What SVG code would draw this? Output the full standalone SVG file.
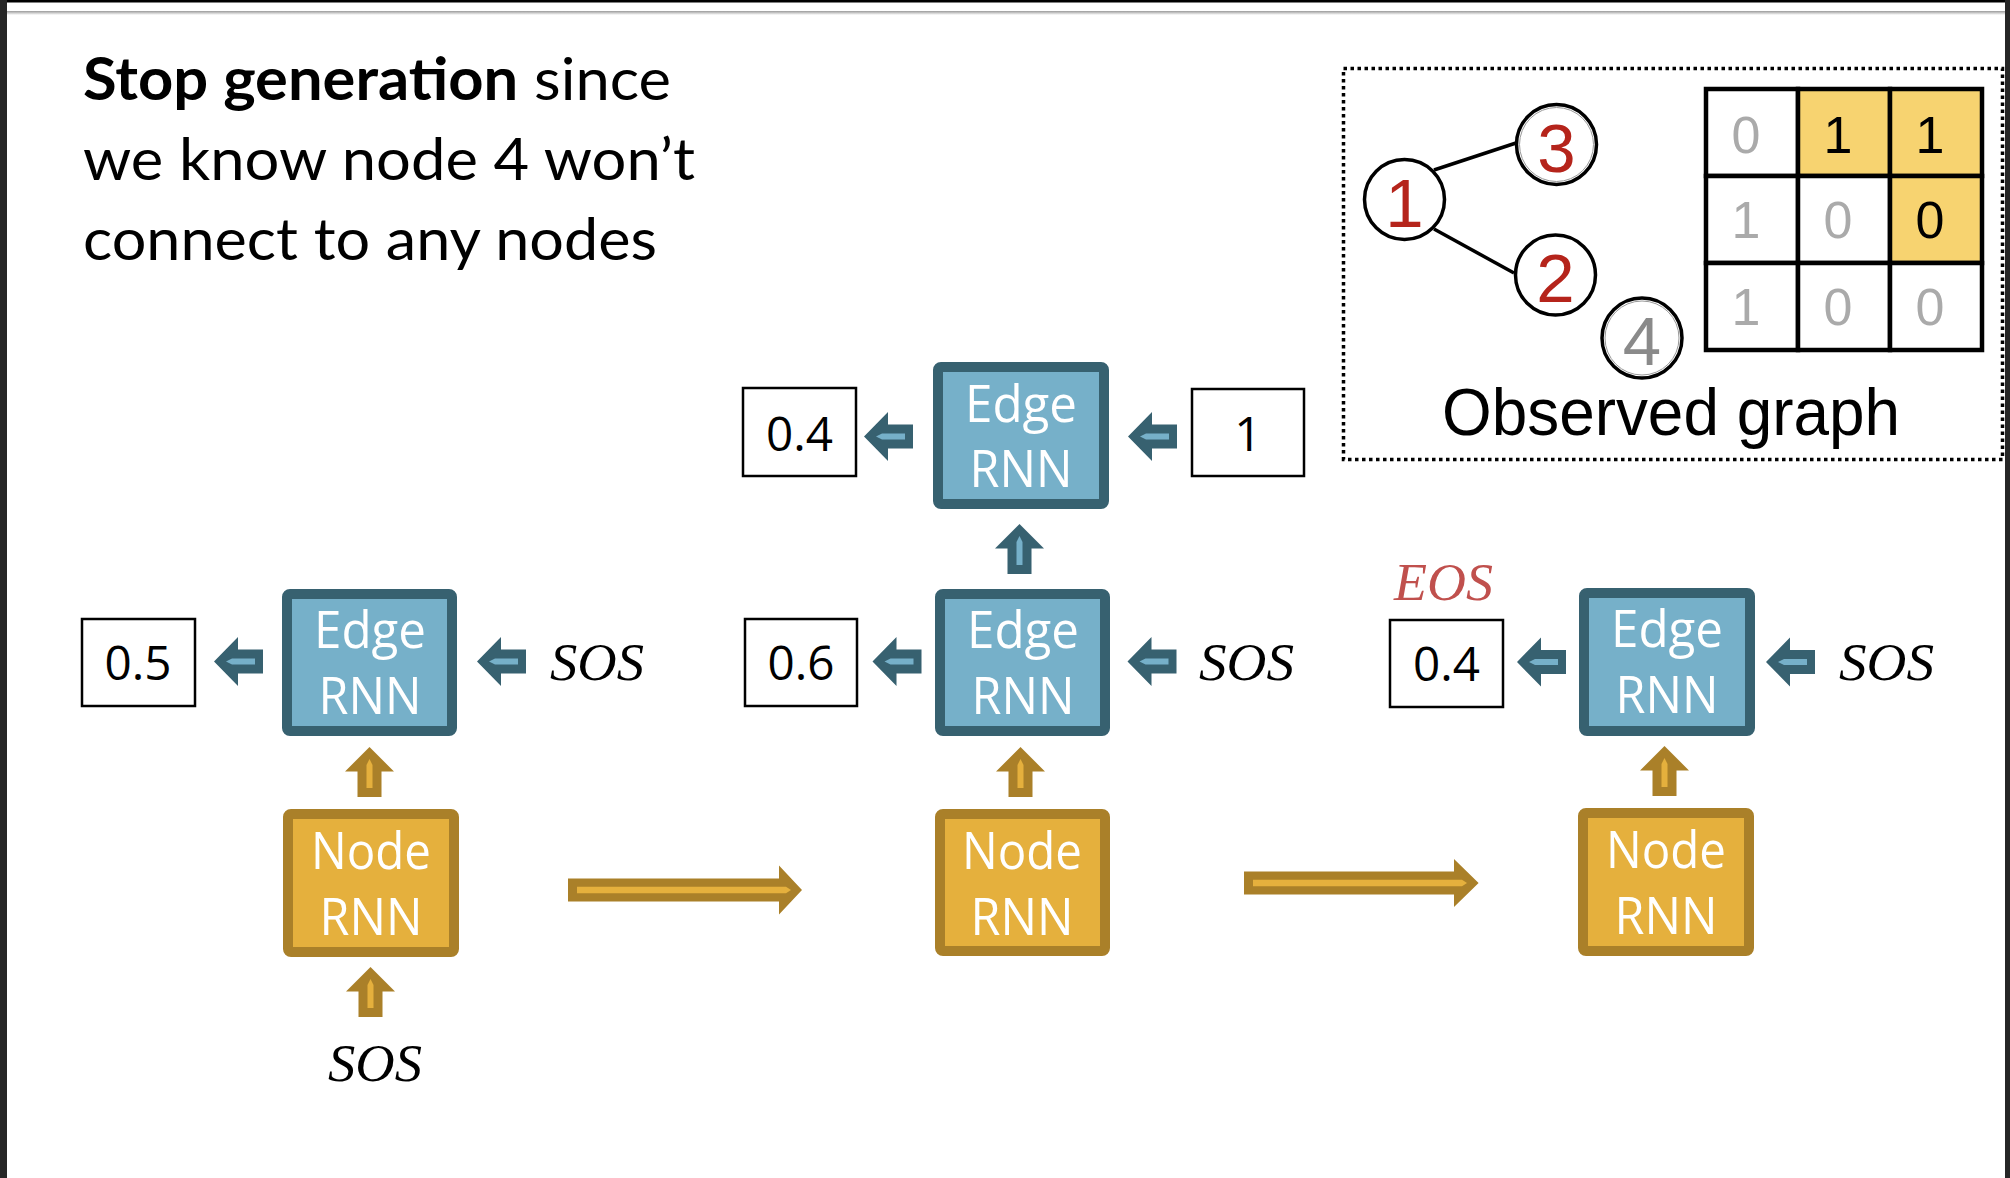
<svg xmlns="http://www.w3.org/2000/svg" xmlns:xlink="http://www.w3.org/1999/xlink" width="2010" height="1178" viewBox="0 0 2010 1178">
<style>
.title{font-family:Lato,"Open Sans","Liberation Sans",sans-serif;font-size:59px;fill:#000}
.edge{fill:#76B0C9;stroke:#376170;stroke-width:10}
.node{fill:#E5B03D;stroke:#AA8029;stroke-width:10}
.lbl{font-family:"Open Sans","Noto Sans","Liberation Sans",sans-serif;font-size:52px;fill:#fff;text-anchor:middle}
.val{fill:#fff;stroke:#000;stroke-width:2.5}
.valt{font-family:"Open Sans","Noto Sans","Liberation Sans",sans-serif;font-size:48px;fill:#000;text-anchor:middle}
.sos{font-family:"Liberation Serif","DejaVu Serif",serif;font-style:italic;font-size:53px;fill:#000}
.gc{fill:#fff;stroke:#000;stroke-width:3.5}
.gn{font-family:"Liberation Sans",Arial,sans-serif;font-size:69px;fill:#B5241B;text-anchor:middle}
.mt{font-family:"Liberation Sans",Arial,sans-serif;font-size:52px;text-anchor:middle}
.cell{stroke:#000;stroke-width:4.5}
</style>
<defs>
<g id="bL"><path d="M0,0 L24,-24.5 L24,-12 L49,-12 L49,12 L24,12 L24,24.5 Z" fill="#376170"/><path d="M12,0 L18,-3 L41,-3 L41,3 L18,3 Z" fill="#76B0C9"/></g>
<g id="bU"><path d="M0,0 L24.5,24.5 L12,24.5 L12,50 L-12,50 L-12,24.5 L-24.5,24.5 Z" fill="#376170"/><path d="M0,12 L3,18 L3,41 L-3,41 L-3,18 Z" fill="#76B0C9"/></g>
<g id="oU"><path d="M0,0 L24.5,24.5 L12,24.5 L12,50 L-12,50 L-12,24.5 L-24.5,24.5 Z" fill="#AA8029"/><path d="M0,12 L3,18 L3,41 L-3,41 L-3,18 Z" fill="#E5B03D"/></g>
<linearGradient id="sh" x1="0" y1="0" x2="0" y2="1"><stop offset="0" stop-color="#9a9a9a"/><stop offset="1" stop-color="#ffffff"/></linearGradient>
</defs>
<rect width="2010" height="1178" fill="#fff"/>
<g id="frame">
<rect x="0" y="0" width="2010" height="2.5" fill="#000"/>
<rect x="7" y="11" width="1998" height="4" fill="url(#sh)"/>
<rect x="0" y="0" width="7" height="1178" fill="#262626"/>
<rect x="2005" y="0" width="5" height="1178" fill="#262626"/>
</g>
<g id="title">
<text class="title" x="83" y="100" textLength="588" lengthAdjust="spacingAndGlyphs"><tspan font-weight="bold">Stop generation</tspan> since</text>
<text class="title" x="83" y="180" textLength="612" lengthAdjust="spacingAndGlyphs">we know node 4 won’t</text>
<text class="title" x="83" y="260" textLength="574" lengthAdjust="spacingAndGlyphs">connect to any nodes</text>
</g>
<g id="observed-graph">
<rect x="1343.5" y="68.5" width="659" height="391" fill="none" stroke="#000" stroke-width="3.5" stroke-dasharray="3.5 3.5"/>
<line x1="1434" y1="170" x2="1516" y2="143" stroke="#000" stroke-width="3.5"/>
<line x1="1434" y1="229" x2="1514" y2="273" stroke="#000" stroke-width="3.5"/>
<g id="g-node1"><circle class="gc" cx="1404.5" cy="199.5" r="40"/><text class="gn" x="1404.5" y="227">1</text></g>
<g id="g-node3"><circle class="gc" cx="1556.5" cy="144.5" r="40"/><circle cx="1556.5" cy="144.5" r="37" fill="none" stroke="#999" stroke-width="1"/><text class="gn" x="1556.5" y="172">3</text></g>
<g id="g-node2"><circle class="gc" cx="1555.5" cy="275" r="40"/><text class="gn" x="1555.5" y="302">2</text></g>
<g id="g-node4"><circle class="gc" cx="1642" cy="338" r="40"/><circle cx="1642" cy="338" r="37" fill="none" stroke="#999" stroke-width="1"/><text class="gn" x="1642" y="365" style="fill:#8A8A8A">4</text></g>
<g id="matrix">
<rect class="cell" x="1706" y="89" width="92" height="87" fill="#fff"/>
<rect class="cell" x="1798" y="89" width="92" height="87" fill="#F7D370"/>
<rect class="cell" x="1890" y="89" width="92" height="87" fill="#F7D370"/>
<rect class="cell" x="1706" y="176" width="92" height="87" fill="#fff"/>
<rect class="cell" x="1798" y="176" width="92" height="87" fill="#fff"/>
<rect class="cell" x="1890" y="176" width="92" height="87" fill="#F7D370"/>
<rect class="cell" x="1706" y="263" width="92" height="87" fill="#fff"/>
<rect class="cell" x="1798" y="263" width="92" height="87" fill="#fff"/>
<rect class="cell" x="1890" y="263" width="92" height="87" fill="#fff"/>
<text class="mt" x="1746" y="153" fill="#AAAAAA">0</text>
<text class="mt" x="1838" y="153" fill="#000">1</text>
<text class="mt" x="1930" y="153" fill="#000">1</text>
<text class="mt" x="1746" y="238" fill="#AAAAAA">1</text>
<text class="mt" x="1838" y="238" fill="#AAAAAA">0</text>
<text class="mt" x="1930" y="238" fill="#000">0</text>
<text class="mt" x="1746" y="325" fill="#AAAAAA">1</text>
<text class="mt" x="1838" y="325" fill="#AAAAAA">0</text>
<text class="mt" x="1930" y="325" fill="#AAAAAA">0</text>
</g>
<text x="1442" y="435" font-family="'Liberation Sans',Arial,sans-serif" font-size="66" textLength="458" lengthAdjust="spacingAndGlyphs" fill="#000">Observed graph</text>
</g>
<g id="edge-rnn-top"><rect class="edge" x="938" y="367" width="166" height="137" rx="3"/><text class="lbl" x="1021" y="422" textLength="112" lengthAdjust="spacingAndGlyphs">Edge</text><text class="lbl" x="1021" y="487" textLength="103" lengthAdjust="spacingAndGlyphs">RNN</text></g>
<g id="edge-rnn-1"><rect class="edge" x="287" y="594" width="165" height="137" rx="3"/><text class="lbl" x="370" y="648" textLength="112" lengthAdjust="spacingAndGlyphs">Edge</text><text class="lbl" x="370" y="714" textLength="103" lengthAdjust="spacingAndGlyphs">RNN</text></g>
<g id="edge-rnn-2"><rect class="edge" x="940" y="594" width="165" height="137" rx="3"/><text class="lbl" x="1023" y="648" textLength="112" lengthAdjust="spacingAndGlyphs">Edge</text><text class="lbl" x="1023" y="714" textLength="103" lengthAdjust="spacingAndGlyphs">RNN</text></g>
<g id="edge-rnn-3"><rect class="edge" x="1584" y="593" width="166" height="138" rx="3"/><text class="lbl" x="1667" y="647" textLength="112" lengthAdjust="spacingAndGlyphs">Edge</text><text class="lbl" x="1667" y="713" textLength="103" lengthAdjust="spacingAndGlyphs">RNN</text></g>
<g id="node-rnn-1"><rect class="node" x="288" y="814" width="166" height="138" rx="3"/><text class="lbl" x="371" y="869" textLength="120" lengthAdjust="spacingAndGlyphs">Node</text><text class="lbl" x="371" y="935" textLength="103" lengthAdjust="spacingAndGlyphs">RNN</text></g>
<g id="node-rnn-2"><rect class="node" x="940" y="814" width="165" height="137" rx="3"/><text class="lbl" x="1022" y="869" textLength="120" lengthAdjust="spacingAndGlyphs">Node</text><text class="lbl" x="1022" y="935" textLength="103" lengthAdjust="spacingAndGlyphs">RNN</text></g>
<g id="node-rnn-3"><rect class="node" x="1583" y="813" width="166" height="138" rx="3"/><text class="lbl" x="1666" y="868" textLength="120" lengthAdjust="spacingAndGlyphs">Node</text><text class="lbl" x="1666" y="934" textLength="103" lengthAdjust="spacingAndGlyphs">RNN</text></g>
<g id="out-top"><rect class="val" x="743" y="388" width="113" height="88"/><text class="valt" x="799.5" y="451" textLength="67" lengthAdjust="spacingAndGlyphs">0.4</text></g>
<g id="in-top"><rect class="val" x="1192" y="389" width="112" height="87"/><text class="valt" x="1248" y="451">1</text></g>
<g id="out-1"><rect class="val" x="82" y="619" width="113" height="87"/><text class="valt" x="138" y="680" textLength="67" lengthAdjust="spacingAndGlyphs">0.5</text></g>
<g id="out-2"><rect class="val" x="745" y="619" width="112" height="87"/><text class="valt" x="801" y="680" textLength="67" lengthAdjust="spacingAndGlyphs">0.6</text></g>
<g id="out-3"><rect class="val" x="1390" y="620" width="113" height="87"/><text class="valt" x="1446.5" y="681" textLength="67" lengthAdjust="spacingAndGlyphs">0.4</text></g>
<g id="labels">
<text class="sos" x="550" y="680" textLength="94" lengthAdjust="spacingAndGlyphs">SOS</text>
<text class="sos" x="1199" y="680" textLength="95" lengthAdjust="spacingAndGlyphs">SOS</text>
<text class="sos" x="1839" y="680" textLength="95" lengthAdjust="spacingAndGlyphs">SOS</text>
<text class="sos" x="328" y="1081" textLength="94" lengthAdjust="spacingAndGlyphs">SOS</text>
<text class="sos" x="1394" y="600" textLength="99" lengthAdjust="spacingAndGlyphs" style="fill:#C0504D">EOS</text>
</g>
<g id="connectors">
<use xlink:href="#bL" x="864" y="436.5"/>
<use xlink:href="#bL" x="1128" y="436.5"/>
<use xlink:href="#bU" x="1019.5" y="524"/>
<use xlink:href="#bL" x="214" y="661.5"/>
<use xlink:href="#bL" x="477" y="661.5"/>
<use xlink:href="#bL" x="872.5" y="661.5"/>
<use xlink:href="#bL" x="1127.5" y="661.5"/>
<use xlink:href="#bL" x="1517" y="662"/>
<use xlink:href="#bL" x="1766" y="662"/>
<use xlink:href="#oU" x="369.5" y="747"/>
<use xlink:href="#oU" x="370.5" y="967"/>
<use xlink:href="#oU" x="1020.5" y="747"/>
<use xlink:href="#oU" x="1664.5" y="746"/>
<path d="M568,878.5 L779,878.5 L779,865.6 L802,890 L779,914.4 L779,901.5 L568,901.5 Z" fill="#AA8029"/>
<path d="M577,886.7 L786,886.7 L791,890 L786,893.3 L577,893.3 Z" fill="#E5B03D"/>
<path d="M1244,871.5 L1454,871.5 L1454,859 L1478.6,883 L1454,907 L1454,894.5 L1244,894.5 Z" fill="#AA8029"/>
<path d="M1253,879.7 L1462,879.7 L1467,883 L1462,886.3 L1253,886.3 Z" fill="#E5B03D"/>
</g>
</svg>
